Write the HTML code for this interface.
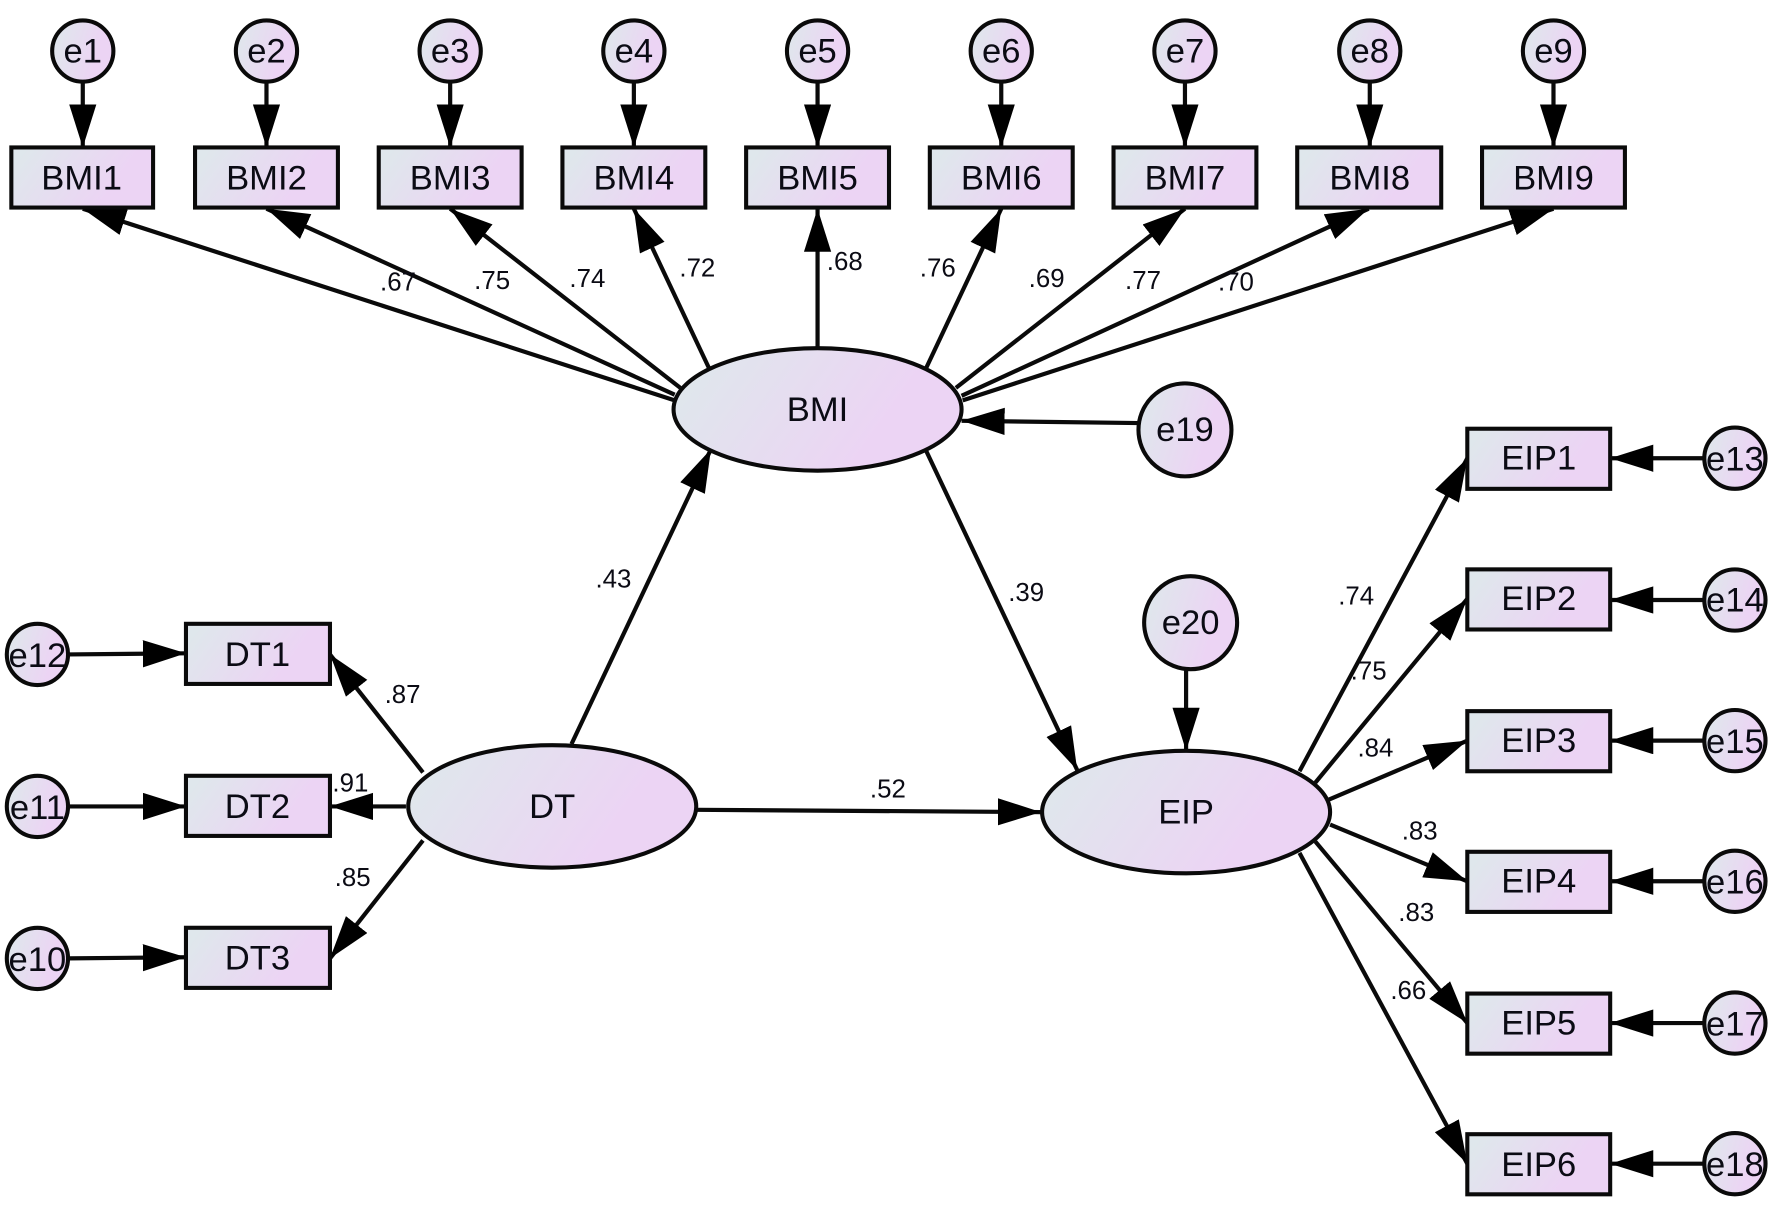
<!DOCTYPE html>
<html><head><meta charset="utf-8"><title>SEM path diagram</title>
<style>
html,body{margin:0;padding:0;background:#fff}
svg{display:block}
text{font-family:"Liberation Sans",Arial,sans-serif;fill:#0b0b14;text-anchor:middle}
.n{font-size:30.5px}
.c{font-size:30.5px}
.l{font-size:22.8px;fill:#151515}
.s{fill:url(#g);stroke:#0a0a0a;stroke-width:3.6}
line{stroke:#0a0a0a;stroke-width:3.7;marker-end:url(#a)}
</style></head><body>
<svg xmlns="http://www.w3.org/2000/svg" width="1778" height="1217" viewBox="0 0 1568 1073" preserveAspectRatio="none">
<defs>
<linearGradient id="g" x1="0" y1="0.35" x2="1" y2="0.65"><stop offset="0" stop-color="#dfe7ec"/><stop offset="0.75" stop-color="#ecd4f4"/><stop offset="1" stop-color="#ecd4f4"/></linearGradient>
<marker id="a" markerUnits="userSpaceOnUse" markerWidth="42" markerHeight="26" refX="38" refY="12" orient="auto"><path d="M0 0L38 12L0 24Z" fill="#000"/></marker>
</defs>
<rect width="1568" height="1073" fill="#fff"/>

<g>
<line x1="73" y1="72" x2="73" y2="130"/><line x1="235" y1="72" x2="235" y2="130"/><line x1="397" y1="72" x2="397" y2="130"/>
<line x1="559" y1="72" x2="559" y2="130"/><line x1="721" y1="72" x2="721" y2="130"/><line x1="883" y1="72" x2="883" y2="130"/>
<line x1="1045" y1="72" x2="1045" y2="130"/><line x1="1208" y1="72" x2="1208" y2="130"/><line x1="1370" y1="72" x2="1370" y2="130"/>

<line x1="595" y1="353" x2="73" y2="184"/><line x1="595" y1="348" x2="235" y2="184"/><line x1="600" y1="342" x2="397" y2="184"/>
<line x1="625" y1="324" x2="559" y2="184"/><line x1="721" y1="306" x2="721" y2="184"/><line x1="817" y1="324" x2="883" y2="184"/>
<line x1="843" y1="342" x2="1045" y2="184"/><line x1="848" y1="349" x2="1207" y2="184"/><line x1="849" y1="353" x2="1370" y2="184"/>

<line x1="1004" y1="373" x2="848" y2="371"/>
<line x1="504" y1="656" x2="627" y2="396"/>
<line x1="817" y1="398" x2="950" y2="679"/>
<line x1="1046" y1="590" x2="1046" y2="662"/>
<line x1="615" y1="714" x2="918" y2="716"/>

<line x1="1146" y1="680" x2="1294" y2="404"/><line x1="1160" y1="690" x2="1294" y2="528"/><line x1="1172" y1="705" x2="1294" y2="653"/>
<line x1="1173" y1="727" x2="1294" y2="777"/><line x1="1160" y1="742" x2="1294" y2="902"/><line x1="1146" y1="752" x2="1294" y2="1026"/>

<line x1="373" y1="681" x2="291" y2="577"/><line x1="358" y1="711" x2="291" y2="711"/><line x1="373" y1="741" x2="291" y2="845"/>

<line x1="60" y1="577" x2="164" y2="576"/><line x1="60" y1="711" x2="164" y2="711"/><line x1="60" y1="845" x2="164" y2="844"/>

<line x1="1503" y1="404" x2="1420" y2="404"/><line x1="1503" y1="529" x2="1420" y2="529"/><line x1="1503" y1="653" x2="1420" y2="653"/>
<line x1="1503" y1="777" x2="1420" y2="777"/><line x1="1503" y1="902" x2="1420" y2="902"/><line x1="1503" y1="1026" x2="1420" y2="1026"/>
</g>

<g class="shapes">
<circle class="s" cx="73" cy="45" r="27"/><circle class="s" cx="235" cy="45" r="27"/><circle class="s" cx="397" cy="45" r="27"/>
<circle class="s" cx="559" cy="45" r="27"/><circle class="s" cx="721" cy="45" r="27"/><circle class="s" cx="883" cy="45" r="27"/>
<circle class="s" cx="1045" cy="45" r="27"/><circle class="s" cx="1208" cy="45" r="27"/><circle class="s" cx="1370" cy="45" r="27"/>

<rect class="s" x="10" y="130" width="125" height="53"/><rect class="s" x="172" y="130" width="126" height="53"/><rect class="s" x="334" y="130" width="126" height="53"/>
<rect class="s" x="496" y="130" width="126" height="53"/><rect class="s" x="658" y="130" width="126" height="53"/><rect class="s" x="820" y="130" width="126" height="53"/>
<rect class="s" x="982" y="130" width="126" height="53"/><rect class="s" x="1144" y="130" width="127" height="53"/><rect class="s" x="1307" y="130" width="126" height="53"/>

<ellipse class="s" cx="721" cy="361" rx="127" ry="54"/>
<ellipse class="s" cx="487" cy="711" rx="127" ry="54"/>
<ellipse class="s" cx="1046" cy="716" rx="127" ry="54"/>
<circle class="s" cx="1045" cy="379" r="41"/>
<circle class="s" cx="1050" cy="549" r="41"/>

<rect class="s" x="1294" y="378" width="126" height="53"/><rect class="s" x="1294" y="502" width="126" height="53"/><rect class="s" x="1294" y="627" width="126" height="53"/>
<rect class="s" x="1294" y="751" width="126" height="53"/><rect class="s" x="1294" y="876" width="126" height="53"/><rect class="s" x="1294" y="1000" width="126" height="53"/>
<circle class="s" cx="1530" cy="404" r="27"/><circle class="s" cx="1530" cy="529" r="27"/><circle class="s" cx="1530" cy="653" r="27"/>
<circle class="s" cx="1530" cy="777" r="27"/><circle class="s" cx="1530" cy="902" r="27"/><circle class="s" cx="1530" cy="1026" r="27"/>

<rect class="s" x="164" y="550" width="127" height="53"/><rect class="s" x="164" y="684" width="127" height="53"/><rect class="s" x="164" y="818" width="127" height="53"/>
<circle class="s" cx="33" cy="577" r="27"/><circle class="s" cx="33" cy="711" r="27"/><circle class="s" cx="33" cy="845" r="27"/>
</g>

<g class="c">
<text x="73" y="55">e1</text><text x="235" y="55">e2</text><text x="397" y="55">e3</text>
<text x="559" y="55">e4</text><text x="721" y="55">e5</text><text x="883" y="55">e6</text>
<text x="1045" y="55">e7</text><text x="1208" y="55">e8</text><text x="1370" y="55">e9</text>
<text x="1045" y="389">e19</text><text x="1050" y="559">e20</text>
<text x="1530" y="415">e13</text><text x="1530" y="539">e14</text><text x="1530" y="664">e15</text>
<text x="1530" y="788">e16</text><text x="1530" y="913">e17</text><text x="1530" y="1037">e18</text>
<text x="33" y="588">e12</text><text x="33" y="722">e11</text><text x="33" y="856">e10</text>
</g>
<g class="n">
<text x="72" y="167">BMI1</text><text x="235" y="167">BMI2</text><text x="397" y="167">BMI3</text>
<text x="559" y="167">BMI4</text><text x="721" y="167">BMI5</text><text x="883" y="167">BMI6</text>
<text x="1045" y="167">BMI7</text><text x="1208" y="167">BMI8</text><text x="1370" y="167">BMI9</text>
<text x="721" y="371">BMI</text><text x="487" y="721">DT</text><text x="1046" y="726">EIP</text>
<text x="1357" y="414">EIP1</text><text x="1357" y="538">EIP2</text><text x="1357" y="663">EIP3</text>
<text x="1357" y="787">EIP4</text><text x="1357" y="912">EIP5</text><text x="1357" y="1037">EIP6</text>
<text x="227" y="587">DT1</text><text x="227" y="721">DT2</text><text x="227" y="855">DT3</text>
</g>
<g class="l">
<text x="351" y="256">.67</text><text x="434" y="255">.75</text><text x="518" y="253">.74</text>
<text x="615" y="244">.72</text><text x="745" y="238">.68</text><text x="827" y="244">.76</text>
<text x="923" y="253">.69</text><text x="1008" y="255">.77</text><text x="1090" y="256">.70</text>
<text x="541" y="518">.43</text><text x="905" y="530">.39</text><text x="783" y="703">.52</text>
<text x="355" y="620">.87</text><text x="309" y="698">.91</text><text x="311" y="781">.85</text>
<text x="1196" y="533">.74</text><text x="1207" y="599">.75</text><text x="1213" y="667">.84</text>
<text x="1252" y="740">.83</text><text x="1249" y="812">.83</text><text x="1242" y="881">.66</text>
</g>
</svg>
</body></html>
